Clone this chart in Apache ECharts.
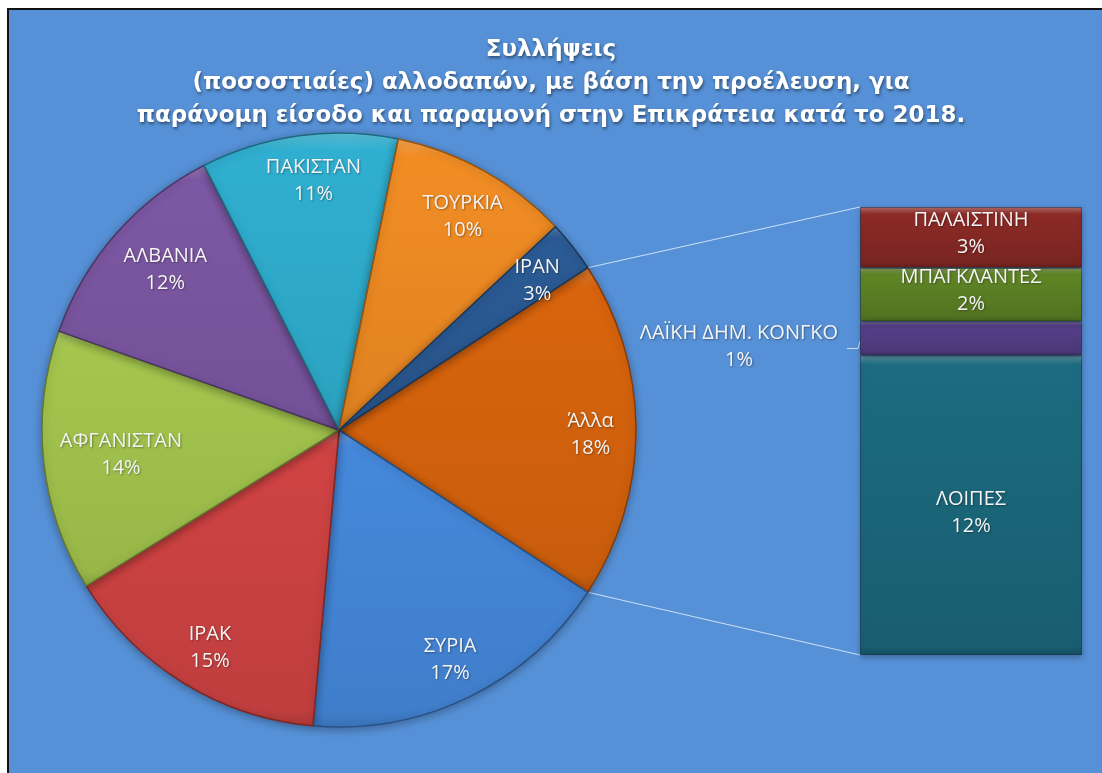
<!DOCTYPE html>
<html>
<head>
<meta charset="utf-8">
<script src="https://cdn.jsdelivr.net/npm/echarts@6/dist/echarts.min.js"></script>
<style>
  html, body { margin: 0; padding: 0; background: #fff; }
  #frame { position: absolute; left: 7px; top: 8px; right: 0; bottom: 0; background: #5690d6; border-left: 2px solid #111; border-top: 2px solid #111; }
  #chart { position: absolute; left: 0; top: 0; width: 1102px; height: 773px; }
</style>
</head>
<body>
<div id="frame"></div>
<div id="chart"></div>
<script>
// pie: Άλλα first, facing the bar, then clockwise
const pieNames = ['Άλλα', 'ΣΥΡΙΑ', 'ΙΡΑΚ', 'ΑΦΓΑΝΙΣΤΑΝ', 'ΑΛΒΑΝΙΑ', 'ΠΑΚΙΣΤΑΝ', 'ΤΟΥΡΚΙΑ', 'ΙΡΑΝ']
const pieValues = [18.4, 17.2, 14.8, 14.2, 12.1, 10.7, 9.8, 2.8]
const pieColors = ['#d9640d', '#4588db', '#d04343', '#a4c64e', '#7d58a4', '#30afd0', '#f28d24', '#2b5b95']

// breakdown of Άλλα, stacked bottom to top
const barNames = ['ΛΟΙΠΕΣ', 'ΛΑΪΚΗ ΔΗΜ. ΚΟΝΓΚΟ', 'ΜΠΑΓΚΛΑΝΤΕΣ', 'ΠΑΛΑΙΣΤΙΝΗ']
const barValues = [12.3, 1.4, 2.2, 2.5]
const barColors = ['#1c6b80', '#56408a', '#5f8526', '#8c2a26']

const title = 'Συλλήψεις\n(ποσοστιαίες) αλλοδαπών, με βάση την προέλευση, για\nπαράνομη είσοδο και παραμονή στην Επικράτεια κατά το 2018.'

const PIE_C = [339, 430]
const PIE_R = 297
const GRID = { left: 860, top: 207, width: 222, height: 448 }
// nudges for labels Excel placed nearer the centre
const labelNudge = { 'ΑΦΓΑΝΙΣΤΑΝ': [30, -2], 'ΑΛΒΑΝΙΑ': [14, 4], 'ΠΑΚΙΣΤΑΝ': [8, -2] }

function shade(hex, f) {
  const n = parseInt(hex.slice(1), 16)
  const ch = [(n >> 16) & 255, (n >> 8) & 255, n & 255].map((c) =>
    Math.round(f >= 0 ? c + (255 - c) * f : c * (1 + f)))
  return 'rgb(' + ch.join(',') + ')'
}
const grad = (c, top, bottom, edge) => new echarts.graphic.LinearGradient(0, 0, 0, 1, [
  { offset: 0, color: shade(c, top) },
  { offset: edge, color: c },
  { offset: 1 - edge, color: shade(c, bottom / 2) },
  { offset: 1, color: shade(c, bottom) },
])

const labelFont = { fontFamily: 'Open Sans', fontSize: 20, color: '#f4f4f4', lineHeight: 27,
  textShadowColor: 'rgba(0,0,0,0.35)', textShadowBlur: 2, textShadowOffsetX: 1, textShadowOffsetY: 1 }
const pct = (v) => Math.round(v) + '%'

const total = pieValues.reduce((a, b) => a + b, 0)
const startAngle = pieValues[0] / total * 180
const barTotal = barValues.reduce((a, b) => a + b, 0)

const pieData = pieNames.map((name, i) => ({
  name, value: pieValues[i],
  itemStyle: { color: grad(pieColors[i], 0.2, -0.15, 0.06), borderColor: shade(pieColors[i], -0.4) },
}))

// connector lines from the edges of Άλλα to the bar corners
const rad = startAngle * Math.PI / 180
const connectors = [
  [PIE_C[0] + PIE_R * Math.cos(rad), PIE_C[1] - PIE_R * Math.sin(rad), GRID.left, GRID.top],
  [PIE_C[0] + PIE_R * Math.cos(rad), PIE_C[1] + PIE_R * Math.sin(rad), GRID.left, GRID.top + GRID.height],
].map(([x1, y1, x2, y2]) => ({
  type: 'line', shape: { x1, y1, x2, y2 }, silent: true, z: 0,
  style: { stroke: 'rgba(225,238,255,0.85)', lineWidth: 1 },
}))
// small leader for the outside Congo label
const congoY = GRID.top + GRID.height * (1 - (barValues[0] + barValues[1] / 2) / barTotal)
connectors.push({ type: 'polyline', silent: true, z: 0,
  shape: { points: [[GRID.left - 13, congoY + 10], [GRID.left - 2, congoY + 10], [GRID.left, congoY + 3]] },
  style: { stroke: 'rgba(225,238,255,0.85)', lineWidth: 1, fill: null } })

const chart = echarts.init(document.getElementById('chart'))
chart.setOption({
  animation: false,
  title: {
    text: title, left: 'center', top: 29,
    textStyle: { fontFamily: 'DejaVu Sans', fontWeight: 'bold', fontSize: 23, lineHeight: 33, color: '#fff',
      textShadowColor: 'rgba(0,0,0,0.45)', textShadowBlur: 3, textShadowOffsetX: 1, textShadowOffsetY: 2 },
  },
  graphic: connectors,
  grid: { ...GRID },
  xAxis: { type: 'category', data: [''], show: false },
  yAxis: { type: 'value', min: 0, max: barTotal, show: false },
  series: [
    {
      type: 'pie', center: PIE_C, radius: PIE_R, startAngle, clockwise: true,
      label: { show: false }, labelLine: { show: false }, silent: true,
      itemStyle: { borderWidth: 1.5, shadowBlur: 8, shadowColor: 'rgba(0,0,0,0.3)', shadowOffsetY: 2 },
      data: pieData,
    },
    {
      // transparent ring used only to place the slice labels
      type: 'pie', center: PIE_C, radius: [PIE_R * 0.66, PIE_R], startAngle, clockwise: true, silent: true, z: 3,
      itemStyle: { color: 'rgba(0,0,0,0)' }, labelLine: { show: false },
      label: { show: true, position: 'inside', ...labelFont, formatter: (p) => p.name + '\n' + pct(p.value) },
      data: pieNames.map((name, i) => ({
        name, value: pieValues[i],
        label: { offset: labelNudge[name] || [2, 5] },
      })),
    },
    ...barNames.map((name, i) => ({
      type: 'bar', name, stack: 'other', barWidth: '100%', silent: true,
      itemStyle: { color: grad(barColors[i], 0.3, -0.25, i === 0 ? 0.03 : 0.12), borderColor: 'rgba(0,0,0,0.35)', borderWidth: 1,
        shadowBlur: 6, shadowColor: 'rgba(0,0,0,0.3)', shadowOffsetY: 2 },
      label: i === 1
        ? { show: true, position: [-121, 25], align: 'center', verticalAlign: 'middle', ...labelFont,
            formatter: (p) => p.seriesName + '\n' + pct(p.value) }
        : { show: true, position: 'inside', offset: [0, i === 0 ? 8 : -4], ...labelFont, formatter: (p) => p.seriesName + '\n' + pct(p.value) },
      data: [barValues[i]],
    })),
  ],
})
</script>
</body>
</html>
